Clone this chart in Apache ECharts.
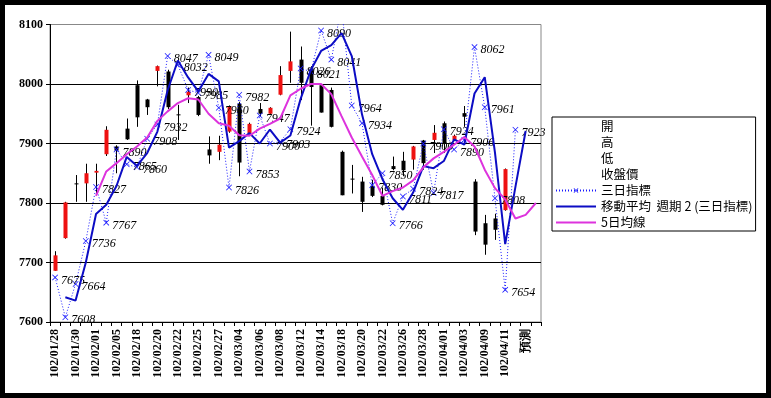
<!DOCTYPE html>
<html>
<head>
<meta charset="utf-8">
<script src="https://cdn.jsdelivr.net/npm/echarts/dist/echarts.min.js"></script>
<style>
html, body { margin: 0; padding: 0; background: #000; }
#chart { position: absolute; left: 5px; top: 5px; width: 761px; height: 388px; background: #fff; }
</style>
</head>
<body>
<div id="chart"></div>
<script>
// 日期 (每兩個顯示一個)
var dates = ['102/01/28','102/01/29','102/01/30','102/01/31','102/02/01','102/02/04','102/02/05','102/02/06',
  '102/02/18','102/02/19','102/02/20','102/02/21','102/02/22','102/02/23','102/02/25','102/02/26',
  '102/02/27','102/03/01','102/03/04','102/03/05','102/03/06','102/03/07','102/03/08','102/03/11',
  '102/03/12','102/03/13','102/03/14','102/03/15','102/03/18','102/03/19','102/03/20','102/03/21',
  '102/03/22','102/03/25','102/03/26','102/03/27','102/03/28','102/03/29','102/04/01','102/04/02',
  '102/04/03','102/04/08','102/04/09','102/04/10','102/04/11','102/04/12','預測',''];

// 開 高 低 收
var openVals = [7686,7741,7833,7833,7851,7882,7895,7925,7998,7974,
  8022,8021,7949,7981,7978,7890,7886,7920,7967,7917,
  7958,7950,7982,8022,8041,8026,7998,7990,7886,7841,
  7836,7829,7812,7862,7871,7873,7905,7906,7934,7906,
  7951,7836,7766,7774,7788];
var highVals = [7719,7802,7847,7866,7866,7929,7897,7942,8006,7975,
  8031,8024,7965,7994,7980,7912,7913,7964,7970,7935,
  7968,7961,8030,8088,8063,8030,8000,7994,7888,7864,
  7844,7839,7826,7878,7886,7896,7906,7931,7937,7915,
  7963,7840,7780,7782,7858];
var lowVals = [7686,7740,7802,7802,7815,7879,7850,7906,7928,7948,
  7996,7958,7906,7968,7946,7866,7872,7918,7845,7915,
  7946,7949,7981,8002,7973,7930,7952,7927,7813,7816,
  7785,7810,7796,7855,7845,7856,7856,7884,7884,7904,
  7928,7746,7713,7738,7787];
var closeVals = [7712,7801,7832,7850,7854,7923,7888,7907,7944,7961,
  8030,7961,7948,7987,7948,7880,7898,7963,7868,7933,
  7950,7960,8015,8038,8002,7995,7952,7928,7813,7840,
  7802,7812,7797,7857,7855,7895,7867,7918,7900,7913,
  7945,7752,7730,7755,7857];

// 三日指標
var indicator = [7675,7608,7664,7736,7827,7767,7890,7865,7860,7908,
  7932,8047,8032,7990,7985,8049,7960,7826,7982,7853,
  7947,7900,7903,7924,8026,8021,8090,8041,8130,7964,
  7934,7830,7850,7766,7811,7824,7900,7817,7924,7890,
  7906,8062,7961,7808,7654,7923,null,null];

// 移動平均 週期2(三日指標)
var movingAvg = [null,7641.5,7636,7700,7781.5,7797,7828.5,7877.5,7862.5,7884,
  7920,7989.5,8039.5,8011,7987.5,8017,8004.5,7893,7904,7917.5,
  7900,7923.5,7901.5,7913.5,7975,8023.5,8055.5,8065.5,8085.5,8047,
  7949,7882,7840,7808,7788.5,7817.5,7862,7858.5,7870.5,7907,
  7898,7984,8011.5,7884.5,7731,7827,7921,null];

// 5日均線
var ma5 = [null,null,null,null,7812,7853,7867,7882,7895,7910,
  7938,7954,7968,7976,7974,7950,7934,7930,7914,7913,
  7925,7933,7942,7981,7992,8000,8000,7983,7946,7910,
  7878,7847,7812,7820,7826,7838,7860,7875,7886,7898,
  7911,7895,7856,7825,7806,7774,7780,7800];

var yMin = 7600, yMax = 8100, yStep = 100;

var chart = echarts.init(document.getElementById('chart'));

var candleData = openVals.map(function (o, i) {
    return [i, o, closeVals[i], lowVals[i], highVals[i]];
});

var indicatorData = indicator.map(function (v) {
    if (v !== null && v > yMax) {
        return { value: v, label: { show: false } };
    }
    return v;
});

function renderCandle(params, api) {
    var x = api.value(0);
    var o = api.value(1), c = api.value(2);
    var pO = api.coord([x, o]);
    var pC = api.coord([x, c]);
    var pL = api.coord([x, api.value(3)]);
    var pH = api.coord([x, api.value(4)]);
    var w = 4;
    var cx = Math.round(pO[0]) + 0.5;
    var top = Math.min(pO[1], pC[1]);
    var h = Math.max(Math.abs(pO[1] - pC[1]), 1);
    return {
        type: 'group',
        children: [
            { type: 'line', shape: { x1: cx, y1: pH[1], x2: cx, y2: pL[1] },
              style: { stroke: '#000', lineWidth: 1 } },
            { type: 'rect', shape: { x: cx - w / 2, y: top, width: w, height: h },
              style: { fill: c > o ? '#ee1111' : '#000' } }
        ]
    };
}

var crossPath = 'path://M0,0.9L0.9,0L5,4.1L9.1,0L10,0.9L5.9,5L10,9.1L9.1,10L5,5.9L0.9,10L0,9.1L4.1,5Z';
var dummyStyle = { color: 'rgba(0,0,0,0)' };
var maName = '移動平均  週期 2 (三日指標)';

var option = {
    animation: false,
    backgroundColor: '#fff',
    grid: {
        left: 45, top: 19.5, right: 225, bottom: 71,
        show: true, borderColor: '#888', borderWidth: 1, backgroundColor: '#fff'
    },
    legend: {
        orient: 'vertical',
        left: 547, top: 112,
        selectedMode: false,
        backgroundColor: '#fff',
        borderColor: '#000', borderWidth: 1, borderRadius: 0,
        padding: [3, 3, 2, 3],
        itemGap: 3,
        itemWidth: 40, itemHeight: 6,
        textStyle: { fontFamily: 'Noto Sans CJK TC', fontSize: 12.5, lineHeight: 13, color: '#000' },
        data: ['開', '高', '低', '收盤價', '三日指標',
            { name: maName, itemStyle: { opacity: 0 } },
            { name: '5日均線', itemStyle: { opacity: 0 } }]
    },
    xAxis: {
        type: 'category',
        data: dates,
        boundaryGap: true,
        axisLine: { lineStyle: { color: '#000', width: 1 } },
        axisTick: { show: true, interval: 0, length: 4, lineStyle: { color: '#000' } },
        axisLabel: {
            interval: 1, rotate: 90, margin: 7,
            fontFamily: 'Liberation Serif', fontWeight: 'bold', fontSize: 12, color: '#000'
        },
        splitLine: { show: false }
    },
    yAxis: {
        type: 'value',
        min: yMin, max: yMax, interval: yStep,
        axisLine: { show: true, lineStyle: { color: '#000', width: 1 } },
        axisTick: { show: true, length: 4, lineStyle: { color: '#000' } },
        axisLabel: {
            margin: 7,
            formatter: function (v) { return String(v); },
            fontFamily: 'Liberation Serif', fontWeight: 'bold', fontSize: 12, color: '#000'
        },
        splitLine: { show: true, lineStyle: { color: ['#000', '#000', '#000', '#000', '#000', '#888'], width: 1 } }
    },
    series: [
        {
            name: 'K線',
            type: 'custom',
            renderItem: renderCandle,
            encode: { x: 0, y: [1, 2, 3, 4] },
            data: candleData,
            z: 1
        },
        { name: '開', type: 'line', data: [], itemStyle: dummyStyle, lineStyle: dummyStyle, symbol: 'none' },
        { name: '高', type: 'line', data: [], itemStyle: dummyStyle, lineStyle: dummyStyle, symbol: 'none' },
        { name: '低', type: 'line', data: [], itemStyle: dummyStyle, lineStyle: dummyStyle, symbol: 'none' },
        { name: '收盤價', type: 'line', data: [], itemStyle: dummyStyle, lineStyle: dummyStyle, symbol: 'none' },
        {
            name: '三日指標',
            type: 'line',
            data: indicatorData,
            symbol: crossPath,
            symbolSize: 6,
            itemStyle: { color: '#1a1aff' },
            lineStyle: { color: '#1a1aff', width: 1, type: [1, 2] },
            clip: true,
            z: 3,
            label: {
                show: true, position: 'right', distance: 3, offset: [0, 3],
                fontFamily: 'Liberation Serif', fontStyle: 'italic', fontSize: 12, color: '#000'
            }
        },
        {
            name: maName,
            type: 'line',
            data: movingAvg,
            symbol: 'none',
            itemStyle: { color: '#0c0cc4' },
            lineStyle: { color: '#0c0cc4', width: 2 },
            clip: true,
            z: 4
        },
        {
            name: '5日均線',
            type: 'line',
            data: ma5,
            symbol: 'none',
            itemStyle: { color: '#dd33dd' },
            lineStyle: { color: '#dd33dd', width: 2 },
            z: 5
        }
    ]
};

chart.setOption(option);
</script>
</body>
</html>
